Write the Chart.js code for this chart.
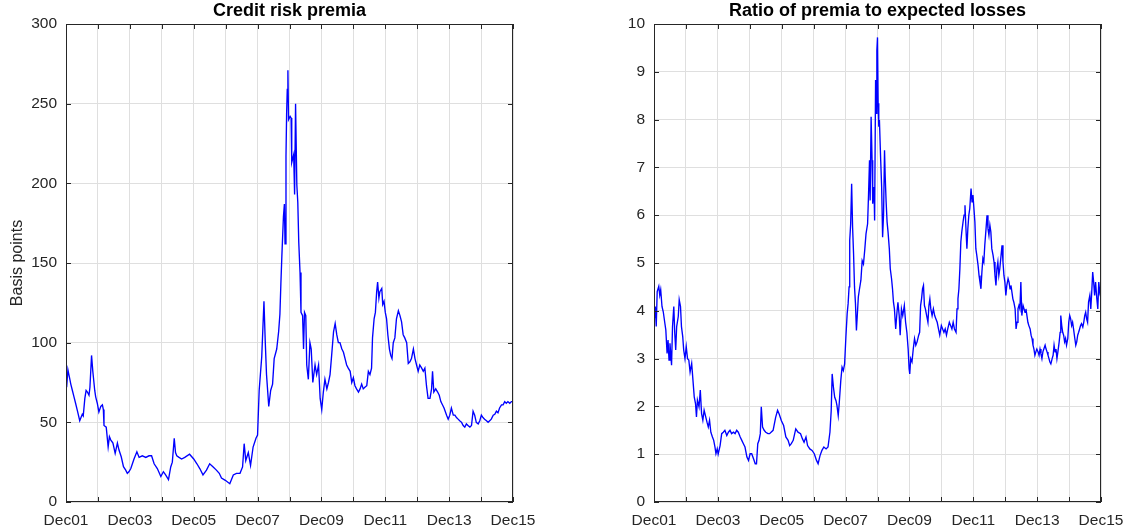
<!DOCTYPE html>
<html>
<head>
<meta charset="utf-8">
<script src="https://cdn.jsdelivr.net/npm/chart.js@4.4.1/dist/chart.umd.min.js"></script>
<style>
  html, body { margin: 0; padding: 0; background: #ffffff; overflow: hidden; }
  #wrap { position: relative; width: 1133px; height: 531px; }
  canvas { position: absolute; top: 0; }
</style>
</head>
<body>
<div id="wrap">
  <canvas id="premia" width="566" height="531" style="left:0px"></canvas>
  <canvas id="ratio" width="567" height="531" style="left:566px"></canvas>
</div>
<script>
// Time axis: years elapsed since December 2001; labels every other December.
const yearLabels = ['Dec01', 'Dec03', 'Dec05', 'Dec07', 'Dec09', 'Dec11', 'Dec13', 'Dec15'];

// Credit risk premia, basis points
const premiaYears = [
  0, 0.02, 0.06, 0.09, 0.11, 0.15, 0.2, 0.25, 0.3, 0.36, 0.43, 0.51, 0.54, 0.59, 0.63, 0.67, 0.72, 0.75, 0.8, 0.84,
  0.86, 0.9, 0.93, 0.98, 1.03, 1.09, 1.14, 1.17, 1.19, 1.26, 1.32, 1.36, 1.4, 1.47, 1.54, 1.61, 1.66, 1.73, 1.8, 1.87,
  1.92, 1.97, 2.03, 2.13, 2.22, 2.29, 2.39, 2.5, 2.6, 2.68, 2.76, 2.86, 2.97, 3.05, 3.12, 3.21, 3.28, 3.33, 3.39, 3.43,
  3.47, 3.54, 3.62, 3.72, 3.87, 4.0, 4.1, 4.19, 4.29, 4.4, 4.5, 4.61, 4.71, 4.8, 4.87, 4.99, 5.13, 5.24, 5.34, 5.45,
  5.53, 5.58, 5.63, 5.71, 5.78, 5.86, 5.95, 6.0, 6.05, 6.13, 6.2, 6.24, 6.28, 6.35, 6.41, 6.47, 6.52, 6.6, 6.66, 6.7,
  6.73, 6.76, 6.81, 6.84, 6.86, 6.89, 6.91, 6.93, 6.95, 6.97, 7.02, 7.05, 7.07, 7.13, 7.16, 7.19, 7.23, 7.26, 7.29, 7.33,
  7.36, 7.41, 7.44, 7.47, 7.51, 7.54, 7.59, 7.64, 7.68, 7.73, 7.8, 7.85, 7.91, 7.96, 8.01, 8.06, 8.11, 8.17, 8.22, 8.27,
  8.32, 8.38, 8.43, 8.48, 8.53, 8.58, 8.64, 8.69, 8.74, 8.79, 8.84, 8.9, 8.95, 9.0, 9.05, 9.1, 9.16, 9.21, 9.26, 9.31,
  9.36, 9.42, 9.47, 9.52, 9.57, 9.6, 9.65, 9.69, 9.73, 9.76, 9.8, 9.83, 9.89, 9.92, 9.96, 10.0, 10.04, 10.08, 10.13, 10.17,
  10.21, 10.25, 10.3, 10.35, 10.41, 10.46, 10.51, 10.56, 10.61, 10.67, 10.72, 10.77, 10.82, 10.88, 10.93, 10.98, 11.03, 11.08, 11.14, 11.19,
  11.24, 11.29, 11.34, 11.4, 11.45, 11.48, 11.52, 11.58, 11.64, 11.69, 11.74, 11.79, 11.84, 11.92, 11.97, 12.02, 12.07, 12.13, 12.18, 12.23,
  12.28, 12.33, 12.39, 12.44, 12.49, 12.54, 12.59, 12.65, 12.7, 12.75, 12.8, 12.85, 12.91, 12.96, 13.01, 13.06, 13.11, 13.17, 13.22, 13.27,
  13.32, 13.38, 13.43, 13.48, 13.53, 13.58, 13.64, 13.69, 13.74, 13.79, 13.84, 13.9, 13.95, 14.0
];
const premiaBp = [
  75, 72, 83, 80, 78, 74, 70, 66, 62, 57, 51, 55, 54, 65, 70, 69, 67, 72, 92, 82,
  78, 70, 66, 62, 56.5, 60, 61, 58, 48, 47, 34.6, 41, 39, 37, 30.5, 37, 32.6, 28.4, 22.2, 20,
  18, 19, 21, 27, 31.5, 28, 29, 28, 29, 29, 24, 21, 16, 19, 17, 14, 22, 25, 40, 31,
  29, 28, 27, 28, 30, 27, 24, 21, 17, 20, 24, 22, 20, 18, 15, 13.6, 11.5, 17, 18, 18,
  22, 36.6, 26, 31, 23, 34.5, 40, 42, 70, 91, 126, 101, 80, 60, 70, 74, 90, 96, 107, 118,
  137, 154, 179, 187, 162, 217, 244, 259, 271, 240, 242, 241, 213, 218, 193, 250, 199, 188, 163, 144,
  119, 117, 96, 119, 117, 86, 77, 100, 96, 75, 86, 80, 86, 65, 58, 69, 77, 71, 75, 80,
  92, 107, 112, 105, 100, 100, 96, 94, 90, 86, 84, 82, 75, 78, 73, 71, 69, 71, 74, 71,
  72, 73, 82, 80, 84, 103, 115, 119, 132, 138, 128, 132, 134, 124, 126, 119, 115, 105, 96, 92,
  90, 100, 103, 115, 120, 117, 113, 105, 103, 100, 87, 88, 90, 96, 90, 86, 82, 86, 84, 82,
  84, 73, 65, 65, 71, 82, 69, 71, 69, 67, 63, 61, 59, 54.5, 52, 54.5, 59, 54.5, 54.5, 53,
  52, 51, 50, 48, 47, 49, 48, 47, 48, 57, 54.5, 50, 49, 51, 54.5, 53, 52, 51, 50, 51,
  52, 54.5, 55, 57, 56, 59, 61, 61, 63, 62, 63, 62, 63, 63
];

// Ratio of premia to expected losses
const ratioYears = [
  0, 0.04, 0.07, 0.1, 0.15, 0.18, 0.21, 0.25, 0.29, 0.34, 0.37, 0.41, 0.44, 0.47, 0.5, 0.55, 0.58, 0.62, 0.65, 0.68,
  0.71, 0.76, 0.79, 0.83, 0.86, 0.9, 0.93, 0.97, 1.01, 1.05, 1.09, 1.13, 1.18, 1.22, 1.26, 1.3, 1.33, 1.36, 1.41, 1.45,
  1.49, 1.53, 1.57, 1.62, 1.66, 1.7, 1.74, 1.78, 1.83, 1.87, 1.91, 1.94, 1.98, 2.01, 2.07, 2.12, 2.17, 2.22, 2.28, 2.33,
  2.38, 2.43, 2.49, 2.54, 2.59, 2.64, 2.7, 2.75, 2.8, 2.85, 2.91, 2.96, 3.01, 3.06, 3.12, 3.17, 3.21, 3.25, 3.29, 3.33,
  3.36, 3.4, 3.45, 3.5, 3.57, 3.62, 3.73, 3.81, 3.87, 3.92, 3.99, 4.06, 4.13, 4.2, 4.25, 4.3, 4.36, 4.44, 4.51, 4.59,
  4.65, 4.7, 4.76, 4.81, 4.88, 4.95, 5.02, 5.09, 5.14, 5.2, 5.26, 5.32, 5.39, 5.45, 5.51, 5.55, 5.58, 5.62, 5.66, 5.7,
  5.73, 5.77, 5.8, 5.85, 5.89, 5.93, 5.97, 6.01, 6.05, 6.08, 6.11, 6.13, 6.16, 6.19, 6.22, 6.25, 6.28, 6.31, 6.34, 6.37,
  6.4, 6.43, 6.48, 6.52, 6.56, 6.6, 6.64, 6.69, 6.72, 6.75, 6.77, 6.8, 6.83, 6.85, 6.89, 6.91, 6.94, 6.96, 6.98, 7.0,
  7.02, 7.04, 7.06, 7.1, 7.13, 7.16, 7.19, 7.22, 7.24, 7.27, 7.3, 7.33, 7.37, 7.4, 7.44, 7.47, 7.5, 7.53, 7.57, 7.61,
  7.64, 7.68, 7.71, 7.75, 7.79, 7.84, 7.88, 7.92, 7.96, 7.99, 8.01, 8.04, 8.08, 8.12, 8.16, 8.2, 8.24, 8.29, 8.32, 8.35,
  8.38, 8.41, 8.44, 8.47, 8.5, 8.54, 8.58, 8.61, 8.64, 8.67, 8.71, 8.75, 8.79, 8.83, 8.87, 8.91, 8.95, 9.0, 9.04, 9.08,
  9.12, 9.16, 9.2, 9.25, 9.29, 9.33, 9.37, 9.41, 9.46, 9.49, 9.52, 9.55, 9.58, 9.61, 9.64, 9.68, 9.71, 9.74, 9.77, 9.8,
  9.83, 9.86, 9.89, 9.93, 9.96, 9.99, 10.02, 10.05, 10.08, 10.11, 10.15, 10.18, 10.21, 10.24, 10.27, 10.3, 10.33, 10.36, 10.4, 10.43,
  10.46, 10.49, 10.52, 10.55, 10.58, 10.62, 10.65, 10.68, 10.71, 10.74, 10.77, 10.8, 10.83, 10.87, 10.9, 10.93, 10.96, 10.99, 11.02, 11.05,
  11.09, 11.12, 11.15, 11.18, 11.21, 11.24, 11.27, 11.31, 11.34, 11.37, 11.4, 11.43, 11.46, 11.49, 11.52, 11.56, 11.59, 11.62, 11.65, 11.68,
  11.71, 11.74, 11.78, 11.81, 11.84, 11.87, 11.9, 11.93, 11.96, 11.99, 12.03, 12.06, 12.09, 12.12, 12.15, 12.18, 12.21, 12.25, 12.28, 12.31,
  12.34, 12.37, 12.4, 12.43, 12.47, 12.5, 12.53, 12.56, 12.59, 12.62, 12.65, 12.69, 12.72, 12.74, 12.77, 12.8, 12.83, 12.86, 12.89, 12.92,
  12.96, 12.99, 13.02, 13.05, 13.08, 13.11, 13.14, 13.18, 13.21, 13.24, 13.27, 13.3, 13.33, 13.36, 13.39, 13.43, 13.46, 13.49, 13.52, 13.55,
  13.58, 13.61, 13.65, 13.68, 13.71, 13.74, 13.77, 13.8, 13.83, 13.87, 13.9, 13.93, 13.96, 14.0
];
const ratioValues = [
  3.74, 4.09, 3.67, 4.4, 4.51, 4.33, 4.44, 4.09, 3.98, 3.74, 3.6, 3.11, 3.39, 2.97, 3.32, 2.86, 3.67, 4.09, 3.53, 3.18,
  3.67, 3.88, 4.23, 4.09, 3.67, 3.46, 3.18, 3.0, 3.25, 3.0, 2.97, 2.72, 2.9, 2.55, 2.2, 2.06, 1.78, 2.13, 1.99, 2.34,
  1.85, 1.71, 1.92, 1.78, 1.67, 1.57, 1.71, 1.46, 1.36, 1.29, 1.15, 1.01, 1.11, 1.0, 1.18, 1.43, 1.46, 1.5, 1.39, 1.46,
  1.5, 1.43, 1.46, 1.43, 1.5, 1.46, 1.36, 1.29, 1.22, 1.15, 0.94, 0.87, 1.01, 1.01, 0.9, 0.8, 0.8, 1.22, 1.29, 1.43,
  1.99, 1.57, 1.5, 1.46, 1.43, 1.43, 1.5, 1.77, 1.92, 1.84, 1.7, 1.6, 1.36, 1.29, 1.18, 1.22, 1.29, 1.53, 1.46, 1.43,
  1.32, 1.25, 1.36, 1.18, 1.11, 1.08, 1.01, 0.87, 0.8, 0.97, 1.08, 1.15, 1.11, 1.15, 1.46, 1.91, 2.68, 2.4, 2.19, 2.12,
  2.02, 1.81, 2.05, 2.54, 2.82, 2.75, 2.89, 3.45, 3.94, 4.15, 4.5, 5.47, 5.82, 6.66, 5.75, 5.2, 4.5, 4.15, 3.59, 3.94,
  4.29, 4.43, 4.64, 5.05, 4.98, 5.27, 5.61, 5.82, 6.45, 7.15, 6.31, 8.06, 7.15, 6.24, 6.59, 5.89, 8.83, 8.13, 9.45, 9.72,
  8.34, 7.85, 7.99, 7.15, 6.59, 5.54, 6.03, 7.36, 6.84, 6.28, 5.86, 5.65, 5.3, 4.88, 4.67, 4.46, 4.18, 4.04, 3.62, 3.97,
  4.18, 3.9, 3.49, 4.04, 3.9, 4.11, 3.76, 3.55, 3.2, 2.79, 2.68, 3.0, 2.93, 3.2, 3.42, 3.28, 3.35, 3.49, 3.55, 4.11,
  4.25, 4.46, 4.53, 4.11, 4.04, 3.9, 3.76, 4.11, 4.25, 4.04, 3.9, 4.04, 3.9, 3.83, 3.76, 3.62, 3.49, 3.69, 3.62, 3.55,
  3.62, 3.49, 3.62, 3.76, 3.69, 3.62, 3.76, 3.62, 3.55, 4.04, 4.25, 4.46, 4.88, 5.44, 5.65, 5.86, 6.0, 6.21, 5.72, 5.3,
  5.72, 6.0, 6.14, 6.56, 6.28, 6.42, 6.14, 5.86, 5.3, 5.16, 4.95, 4.74, 4.6, 4.46, 4.81, 5.09, 5.02, 5.37, 5.72, 6.0,
  5.72, 5.58, 5.79, 5.65, 5.3, 5.16, 5.02, 4.74, 4.53, 4.88, 5.02, 4.74, 4.88, 5.16, 5.37, 5.02, 4.74, 4.6, 4.32, 4.53,
  4.67, 4.6, 4.46, 4.53, 4.39, 4.25, 4.18, 4.04, 3.62, 3.76, 4.04, 4.11, 4.04, 4.6, 3.9, 4.11, 4.04, 3.97, 4.04, 3.9,
  3.76, 3.69, 3.62, 3.49, 3.42, 3.28, 3.2, 3.07, 3.14, 3.2, 3.14, 3.07, 3.2, 3.1, 3.0, 3.14, 3.2, 3.28, 3.2, 3.14,
  3.07, 3.0, 2.93, 2.89, 3.0, 3.07, 3.28, 3.14, 3.2, 3.0, 3.14, 3.35, 3.55, 3.9, 3.69, 3.55, 3.49, 3.35, 3.42, 3.28,
  3.42, 3.76, 3.9, 3.83, 3.69, 3.76, 3.62, 3.42, 3.28, 3.35, 3.49, 3.55, 3.62, 3.69, 3.73, 3.66, 3.76, 3.9, 3.97, 3.83,
  3.76, 4.18, 4.32, 4.04, 4.39, 4.81, 4.6, 4.32, 4.6, 4.25, 4.04, 4.6, 4.39, 4.53
];

const FONT = '"Liberation Sans", Arial, Helvetica, sans-serif';
const TEXT = '#262626';
const GRID = '#dfdfdf';

// Boxed axes with short inward ticks on all four sides, plus a bold title.
const boxedAxes = {
  id: 'boxedAxes',
  afterDraw(chart, args, opts) {
    const { ctx, chartArea: { left, right, top, bottom }, scales: { x, y } } = chart;
    const len = 5;
    ctx.save();
    ctx.strokeStyle = TEXT;
    ctx.lineWidth = 1;
    ctx.beginPath();
    x.ticks.forEach(t => {
      const px = Math.round(x.getPixelForValue(t.value)) + 0.5;
      ctx.moveTo(px, bottom); ctx.lineTo(px, bottom - len);
      ctx.moveTo(px, top); ctx.lineTo(px, top + len);
    });
    y.ticks.forEach(t => {
      const py = Math.round(y.getPixelForValue(t.value)) + 0.5;
      ctx.moveTo(left, py); ctx.lineTo(left + len, py);
      ctx.moveTo(right, py); ctx.lineTo(right - len, py);
    });
    ctx.stroke();
    ctx.strokeRect(left + 0.5, top + 0.5, right - left - 1, bottom - top - 1);
    if (opts.title) {
      ctx.fillStyle = '#000000';
      ctx.font = 'bold 18px ' + FONT;
      ctx.textAlign = 'center';
      ctx.textBaseline = 'middle';
      ctx.fillText(opts.title, (left + right) / 2, 11);
    }
    ctx.restore();
  }
};

function points(xs, ys) {
  return xs.map((v, i) => ({ x: v, y: ys[i] }));
}

function makeChart(id, xs, ys, cfg) {
  return new Chart(document.getElementById(id), {
    type: 'line',
    data: {
      datasets: [{
        data: points(xs, ys),
        borderColor: '#0000ff',
        borderWidth: 1.35,
        pointRadius: 0,
        tension: 0,
        fill: false
      }]
    },
    options: {
      responsive: false,
      animation: false,
      events: [],
      layout: { padding: { left: 0, top: 24, right: cfg.padRight, bottom: 0 } },
      plugins: {
        legend: { display: false },
        tooltip: { enabled: false },
        boxedAxes: { title: cfg.title }
      },
      scales: {
        x: {
          type: 'linear',
          min: 0,
          max: 14,
          afterFit(s) { s.height = 29; },
          grid: { color: GRID, drawTicks: false },
          border: { display: false },
          ticks: {
            stepSize: 1,
            autoSkip: false,
            maxRotation: 0,
            padding: 9,
            color: TEXT,
            font: { family: FONT, size: 15.5 },
            callback: v => (v % 2 === 0 ? yearLabels[v / 2] : '')
          }
        },
        y: {
          min: 0,
          max: cfg.yMax,
          afterFit(s) { s.width = cfg.axisWidth; },
          grid: { color: GRID, drawTicks: false },
          border: { display: false },
          title: {
            display: !!cfg.yTitle,
            text: cfg.yTitle || '',
            color: TEXT,
            font: { family: FONT, size: 16 },
            padding: { top: 8, bottom: 0 }
          },
          ticks: {
            stepSize: cfg.yStep,
            padding: 9,
            color: TEXT,
            font: { family: FONT, size: 15.5 }
          }
        }
      }
    },
    plugins: [boxedAxes]
  });
}

makeChart('premia', premiaYears, premiaBp, {
  title: 'Credit risk premia', yTitle: 'Basis points', yMax: 300, yStep: 50, axisWidth: 66, padRight: 53
});
makeChart('ratio', ratioYears, ratioValues, {
  title: 'Ratio of premia to expected losses', yTitle: '', yMax: 10, yStep: 1, axisWidth: 88, padRight: 32
});
</script>
</body>
</html>
